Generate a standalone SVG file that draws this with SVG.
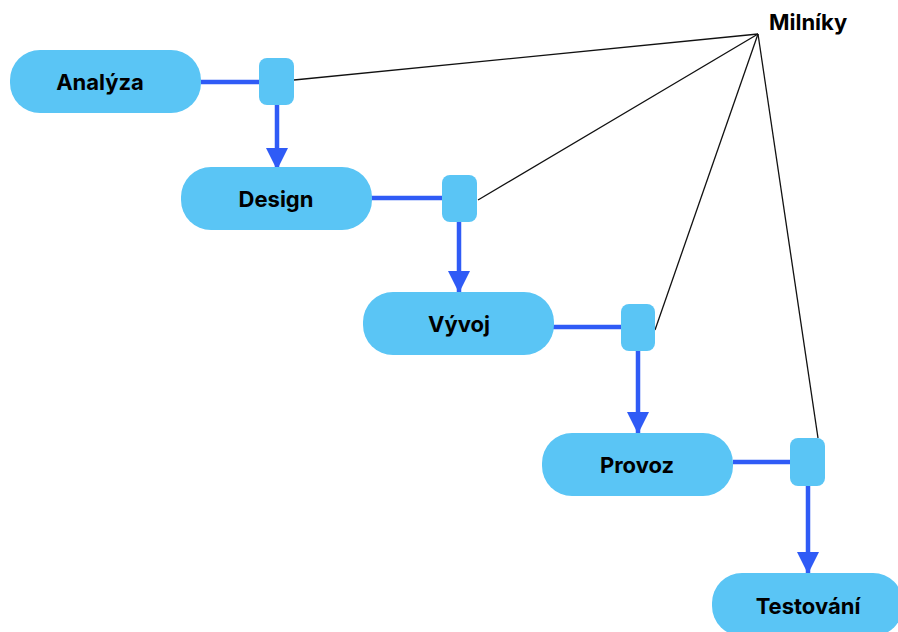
<svg xmlns="http://www.w3.org/2000/svg" width="898" height="632" viewBox="0 0 898 632">
<defs>
<style>
.node{fill:#5AC5F5;}
.lbl{font-family:Inter,"Liberation Sans",sans-serif;font-weight:bold;font-size:22px;fill:#000;text-anchor:middle;dominant-baseline:central;}
.flow{stroke:#2F5BF6;stroke-width:4.5;fill:none;}
.ms{stroke:#111;stroke-width:1.3;fill:none;}
</style>
<marker id="ah" markerUnits="userSpaceOnUse" markerWidth="22" markerHeight="22" refX="22" refY="11" orient="auto">
<path d="M0,0 L22,11 L0,22 Z" fill="#2F5BF6"/>
</marker>
</defs>
<rect width="898" height="632" fill="#fff"/>
<g id="connectors">
<line class="flow" x1="201" y1="82" x2="260" y2="82"/>
<line class="flow" x1="277" y1="105" x2="277" y2="170" marker-end="url(#ah)"/>
<line class="flow" x1="371" y1="198" x2="442" y2="198"/>
<line class="flow" x1="459" y1="222" x2="459" y2="293" marker-end="url(#ah)"/>
<line class="flow" x1="553" y1="327" x2="621" y2="327"/>
<line class="flow" x1="638" y1="351" x2="638" y2="434" marker-end="url(#ah)"/>
<line class="flow" x1="733" y1="462" x2="791" y2="462"/>
<line class="flow" x1="808" y1="486" x2="808" y2="574" marker-end="url(#ah)"/>
<line class="ms" x1="758" y1="34" x2="294" y2="80"/>
<line class="ms" x1="758" y1="34" x2="478" y2="200"/>
<line class="ms" x1="758" y1="34" x2="655" y2="330"/>
<line class="ms" x1="758" y1="34" x2="818" y2="438"/>
</g>
<g id="analyza"><rect class="node" x="10" y="50" width="191" height="63" rx="30"/><text class="lbl" x="100" y="82">Analýza</text></g>
<g id="m1"><rect class="node" x="259" y="58" width="35" height="47" rx="8"/></g>
<g id="design"><rect class="node" x="181" y="167" width="191" height="63" rx="30"/><text class="lbl" x="276" y="199">Design</text></g>
<g id="m2"><rect class="node" x="442" y="175" width="35" height="47" rx="8"/></g>
<g id="vyvoj"><rect class="node" x="363" y="292" width="191" height="63" rx="30"/><text class="lbl" x="459" y="324">Vývoj</text></g>
<g id="m3"><rect class="node" x="621" y="304" width="34" height="47" rx="8"/></g>
<g id="provoz"><rect class="node" x="542" y="433" width="191" height="63" rx="30"/><text class="lbl" x="637" y="465">Provoz</text></g>
<g id="m4"><rect class="node" x="790" y="438" width="35" height="48" rx="8"/></g>
<g id="testovani"><rect class="node" x="712" y="573" width="191" height="63" rx="30"/><text class="lbl" x="808" y="606">Testování</text></g>
<g id="milniky"><text x="769" y="30" style="font-family:Inter,'Liberation Sans',sans-serif;font-weight:bold;font-size:22px;fill:#000;">Milníky</text></g>
</svg>
